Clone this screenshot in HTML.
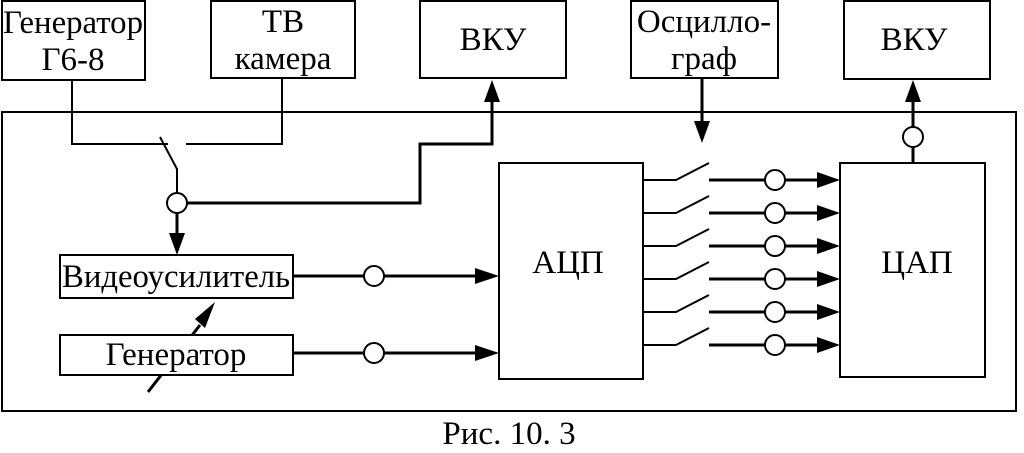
<!DOCTYPE html>
<html><head><meta charset="utf-8"><style>
html,body{margin:0;padding:0;background:#fff;}
svg{display:block;}
text{font-family:"Liberation Serif","DejaVu Serif",serif;fill:#000;}
</style></head><body>
<svg width="1024" height="453" viewBox="0 0 1024 453" xmlns="http://www.w3.org/2000/svg">
<g fill="none" stroke="#000" stroke-width="2">
<rect x="2" y="1" width="143" height="79"/>
<rect x="211" y="1" width="144" height="77"/>
<rect x="420" y="1" width="146" height="77"/>
<rect x="631" y="1" width="147" height="77"/>
<rect x="844" y="1" width="146" height="78"/>
<rect x="2" y="112" width="1014" height="299"/>
<rect x="499" y="163" width="144" height="216"/>
<rect x="840" y="163" width="145" height="214"/>
<polyline points="72,80 72,144 168,144"/>
<polyline points="186,144 282,144 282,78"/>
<polyline points="160,137 177,169 177,193"/>
<polyline points="187,203 420,203 420,144 492,144 492,102" stroke-width="3"/>
<line x1="177" y1="213" x2="177" y2="236" stroke-width="3"/>
<line x1="293" y1="276" x2="364" y2="276" stroke-width="3"/>
<line x1="384" y1="276" x2="477" y2="276" stroke-width="3"/>
<line x1="293" y1="353" x2="364" y2="353" stroke-width="3"/>
<line x1="384" y1="353" x2="477" y2="353" stroke-width="3"/>
<line x1="702" y1="78" x2="702" y2="125" stroke-width="3"/>
<line x1="913" y1="163" x2="913" y2="147" stroke-width="3"/>
<line x1="913" y1="127" x2="913" y2="100" stroke-width="3"/>
<line x1="148" y1="392" x2="200" y2="325" stroke-width="3"/>
</g>
<g fill="#fff" stroke="#000" stroke-width="2">
<rect x="60" y="255" width="233" height="43"/>
<rect x="60" y="335" width="233" height="40"/>
</g>
<g fill="#000">
<path d="M492,80 L484,102 L500,102 Z"/>
<path d="M177,255 L169,233 L185,233 Z"/>
<path d="M499,276 L475,268 L475,284 Z"/>
<path d="M499,353 L475,345 L475,361 Z"/>
<path d="M702,143 L694,121 L710,121 Z"/>
<path d="M913,80 L905,102 L921,102 Z"/>
<path d="M215,302 L195,319 L205,328 Z"/>
</g>
<g fill="#fff" stroke="#000" stroke-width="2">
<circle cx="177" cy="203" r="10"/>
<circle cx="374" cy="276" r="10"/>
<circle cx="374" cy="353" r="10"/>
<circle cx="913" cy="137" r="10"/>
</g>
<g stroke="#000" stroke-width="2" fill="none">
<polyline points="643,180 676,180 709,163"/>
<polyline points="643,213 676,213 709,196"/>
<polyline points="643,246 676,246 709,229"/>
<polyline points="643,279 676,279 709,262"/>
<polyline points="643,312 676,312 709,295"/>
<polyline points="643,345 676,345 709,328"/>
</g>
<g stroke="#000" stroke-width="3">
<line x1="709" y1="180" x2="820" y2="180"/>
<line x1="709" y1="213" x2="820" y2="213"/>
<line x1="709" y1="246" x2="820" y2="246"/>
<line x1="709" y1="279" x2="820" y2="279"/>
<line x1="709" y1="312" x2="820" y2="312"/>
<line x1="709" y1="345" x2="820" y2="345"/>
</g>
<g fill="#000">
<path d="M840,180 L817,172 L817,188 Z"/>
<path d="M840,213 L817,205 L817,221 Z"/>
<path d="M840,246 L817,238 L817,254 Z"/>
<path d="M840,279 L817,271 L817,287 Z"/>
<path d="M840,312 L817,304 L817,320 Z"/>
<path d="M840,345 L817,337 L817,353 Z"/>
</g>
<g fill="#fff" stroke="#000" stroke-width="2">
<circle cx="775" cy="180" r="10"/>
<circle cx="775" cy="213" r="10"/>
<circle cx="775" cy="246" r="10"/>
<circle cx="775" cy="279" r="10"/>
<circle cx="775" cy="312" r="10"/>
<circle cx="775" cy="345" r="10"/>
</g>
<g font-size="33" text-anchor="middle">
<text x="73" y="33" textLength="140" lengthAdjust="spacingAndGlyphs">Генератор</text>
<text x="73" y="70">Г6-8</text>
<text x="283" y="32">ТВ</text>
<text x="283" y="69">камера</text>
<text x="493" y="50">ВКУ</text>
<text x="704" y="32">Осцилло-</text>
<text x="704" y="69">граф</text>
<text x="914" y="50">ВКУ</text>
<text x="176" y="287" textLength="228" lengthAdjust="spacingAndGlyphs">Видеоусилитель</text>
<text x="176" y="365">Генератор</text>
<text x="568" y="273">АЦП</text>
<text x="917" y="273">ЦАП</text>
<text x="509" y="444">Рис. 10. 3</text>
</g>
</svg>
</body></html>
